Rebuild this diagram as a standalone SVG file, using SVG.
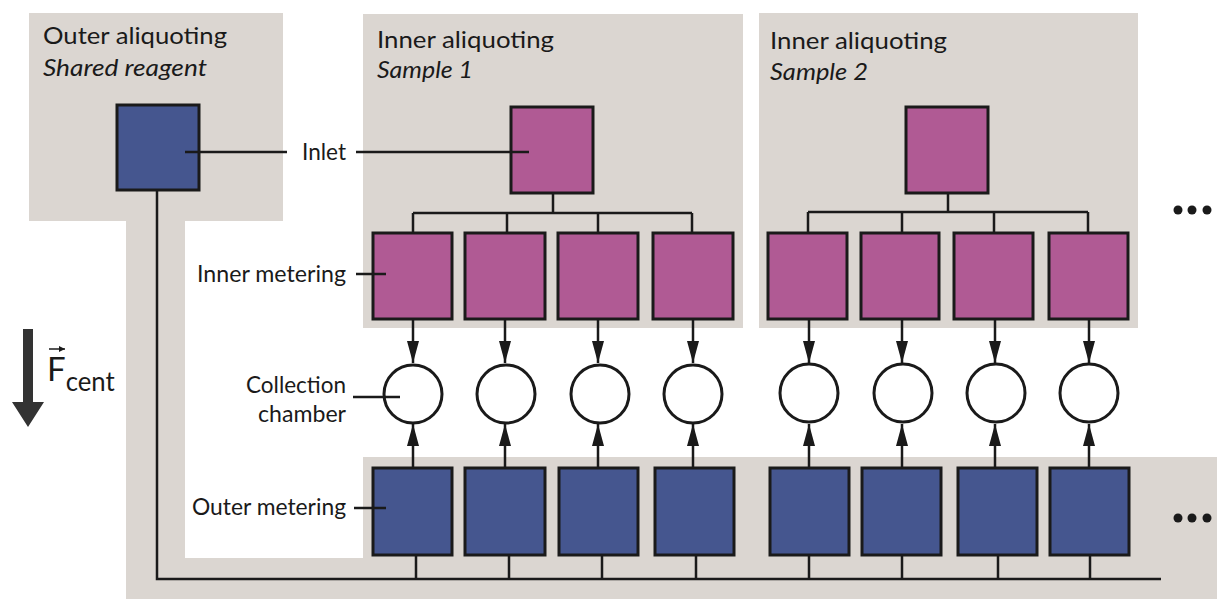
<svg xmlns="http://www.w3.org/2000/svg" width="1217" height="599" viewBox="0 0 1217 599">
<style>
.bg{fill:#dbd6d1}
.mag{fill:#b05a94;stroke:#1a1a1a;stroke-width:3}
.blu{fill:#45568f;stroke:#1a1a1a;stroke-width:3}
.ch{fill:#fff;stroke:#1a1a1a;stroke-width:3}
.ln{stroke:#1a1a1a;stroke-width:2.5;fill:none}
.ar{stroke:#1a1a1a;stroke-width:2.5;fill:none;marker-end:url(#ah)}
.t{font-family:Lato,"Open Sans","Liberation Sans",sans-serif;font-size:24px;fill:#1a1a1a}
.i{font-style:italic}
.e{text-anchor:end}
.dot{fill:#1a1a1a}
</style>
<defs>
<marker id="ah" markerUnits="userSpaceOnUse" markerWidth="22" markerHeight="12" refX="22" refY="6" orient="auto">
<path d="M0,0 L22,6 L0,12 z" fill="#1a1a1a"/>
</marker>
<marker id="sa" markerUnits="userSpaceOnUse" markerWidth="6" markerHeight="6" refX="6" refY="3" orient="auto">
<path d="M0,0 L6,3 L0,6 z" fill="#1a1a1a"/>
</marker>
</defs>
<rect width="1217" height="599" fill="#fff"/>
<g id="backgrounds">
<rect class="bg" x="29" y="13" width="254" height="208"/>
<rect class="bg" x="126" y="221" width="59" height="378"/>
<rect class="bg" x="126" y="558" width="1091" height="41"/>
<rect class="bg" x="363" y="457" width="854" height="142"/>
<rect class="bg" x="363" y="14" width="380" height="314"/>
<rect class="bg" x="759" y="13" width="379" height="315"/>
</g>
<g id="connectors">
<path class="ln" d="M157,190 V579 H1161"/>
<path class="ln" d="M416,555 V579 M509,555 V579 M602,555 V579 M696,555 V579 M809,555 V579 M902,555 V579 M998,555 V579 M1090,555 V579"/>
<path class="ln" d="M553,193 V213 M413,213 H692 M413,213 V233 M507,213 V233 M598,213 V233 M692,213 V233"/>
<path class="ln" d="M948,193 V212 M808,212 H1088 M808,212 V233 M902,212 V233 M994,212 V233 M1088,212 V233"/>
<line class="ar" x1="413" y1="320" x2="413" y2="363"/>
<line class="ar" x1="505" y1="320" x2="505" y2="363"/>
<line class="ar" x1="598" y1="320" x2="598" y2="363"/>
<line class="ar" x1="693" y1="320" x2="693" y2="363"/>
<line class="ar" x1="809" y1="320" x2="809" y2="363"/>
<line class="ar" x1="902" y1="320" x2="902" y2="363"/>
<line class="ar" x1="995" y1="320" x2="995" y2="363"/>
<line class="ar" x1="1089" y1="320" x2="1089" y2="363"/>
<line class="ar" x1="413" y1="467" x2="413" y2="424"/>
<line class="ar" x1="505" y1="467" x2="505" y2="424"/>
<line class="ar" x1="598" y1="467" x2="598" y2="424"/>
<line class="ar" x1="693" y1="467" x2="693" y2="424"/>
<line class="ar" x1="809" y1="467" x2="809" y2="424"/>
<line class="ar" x1="902" y1="467" x2="902" y2="424"/>
<line class="ar" x1="995" y1="467" x2="995" y2="424"/>
<line class="ar" x1="1089" y1="467" x2="1089" y2="424"/>
</g>
<g id="outer-inlet"><rect class="blu" x="117" y="105" width="82" height="85"/></g>
<g id="s1-inlet"><rect class="mag" x="511" y="107" width="82" height="86"/></g>
<g id="s2-inlet"><rect class="mag" x="906" y="107" width="82" height="86"/></g>
<g id="s1-inner-metering">
<rect class="mag" x="373" y="233" width="79" height="86"/>
<rect class="mag" x="465" y="233" width="80" height="86"/>
<rect class="mag" x="558" y="233" width="80" height="86"/>
<rect class="mag" x="653" y="233" width="80" height="86"/>
</g>
<g id="s2-inner-metering">
<rect class="mag" x="768" y="233" width="79" height="86"/>
<rect class="mag" x="861" y="233" width="78" height="86"/>
<rect class="mag" x="954" y="233" width="79" height="86"/>
<rect class="mag" x="1049" y="233" width="79" height="86"/>
</g>
<g id="collection-chambers">
<circle class="ch" cx="413" cy="394" r="29"/>
<circle class="ch" cx="506" cy="394" r="29"/>
<circle class="ch" cx="600" cy="394" r="29"/>
<circle class="ch" cx="693" cy="394" r="29"/>
<circle class="ch" cx="809" cy="393" r="29"/>
<circle class="ch" cx="903" cy="393" r="29"/>
<circle class="ch" cx="996" cy="393" r="29"/>
<circle class="ch" cx="1089" cy="393" r="29"/>
</g>
<g id="outer-metering">
<rect class="blu" x="373" y="468" width="79" height="87"/>
<rect class="blu" x="465" y="468" width="80" height="87"/>
<rect class="blu" x="559" y="468" width="79" height="87"/>
<rect class="blu" x="655" y="468" width="79" height="87"/>
<rect class="blu" x="770" y="468" width="79" height="87"/>
<rect class="blu" x="862" y="468" width="79" height="87"/>
<rect class="blu" x="958" y="468" width="79" height="87"/>
<rect class="blu" x="1050" y="468" width="79" height="87"/>
</g>
<g id="leaders">
<path class="ln" d="M185,152 H287 M356,152 H529 M356,274 H386 M353,397 H400 M354,508 H386"/>
</g>
<g id="labels">
<text class="t" x="43" y="44" textLength="184" lengthAdjust="spacingAndGlyphs">Outer aliquoting</text>
<text class="t i" x="43" y="76" textLength="164" lengthAdjust="spacingAndGlyphs">Shared reagent</text>
<text class="t" x="377" y="48" textLength="177" lengthAdjust="spacingAndGlyphs">Inner aliquoting</text>
<text class="t i" x="377" y="78" textLength="96" lengthAdjust="spacingAndGlyphs">Sample 1</text>
<text class="t" x="770" y="49" textLength="177" lengthAdjust="spacingAndGlyphs">Inner aliquoting</text>
<text class="t i" x="770" y="80" textLength="98" lengthAdjust="spacingAndGlyphs">Sample 2</text>
<text class="t" x="302" y="160" textLength="44" lengthAdjust="spacingAndGlyphs">Inlet</text>
<text class="t e" x="346" y="282" textLength="149" lengthAdjust="spacingAndGlyphs">Inner metering</text>
<text class="t e" x="346" y="393" textLength="100" lengthAdjust="spacingAndGlyphs">Collection</text>
<text class="t e" x="346" y="422" textLength="88" lengthAdjust="spacingAndGlyphs">chamber</text>
<text class="t e" x="346" y="515" textLength="154" lengthAdjust="spacingAndGlyphs">Outer metering</text>
</g>
<g id="force">
<path d="M23,329 H33 V402 H44 L28,427 L12,402 H23 Z" fill="#333"/>
<text font-family="Lato, Open Sans, Liberation Sans, sans-serif" fill="#1a1a1a"><tspan x="47" y="381" font-size="33">F</tspan><tspan y="391" font-size="26" textLength="49" lengthAdjust="spacingAndGlyphs">cent</tspan></text>
<line x1="49" y1="349" x2="65" y2="349" stroke="#1a1a1a" stroke-width="1.5" marker-end="url(#sa)"/>
</g>
<g id="ellipses">
<circle class="dot" cx="1178" cy="210" r="4.5"/>
<circle class="dot" cx="1192" cy="210" r="4.5"/>
<circle class="dot" cx="1207" cy="210" r="4.5"/>
<circle class="dot" cx="1178" cy="518" r="4.5"/>
<circle class="dot" cx="1192" cy="518" r="4.5"/>
<circle class="dot" cx="1207" cy="518" r="4.5"/>
</g>
</svg>
